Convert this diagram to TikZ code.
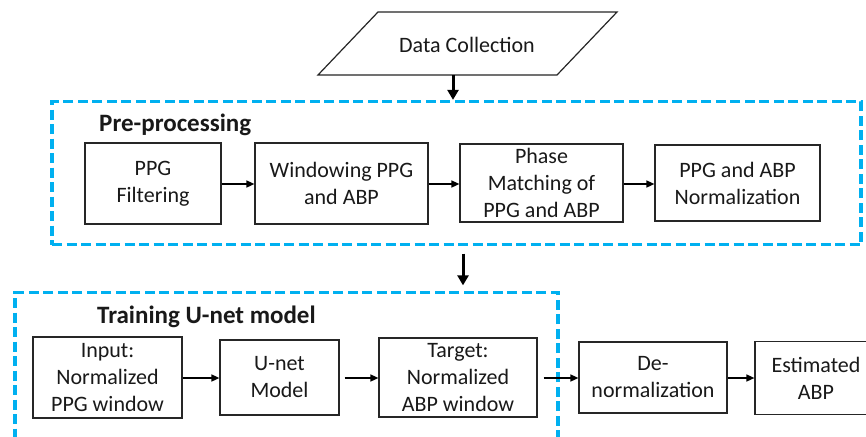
\documentclass[tikz,border=0pt]{standalone}
\usepackage{fontspec}
\setmainfont{Carlito}
\usetikzlibrary{arrows.meta,calc}
\definecolor{dashblue}{HTML}{00B0F0}
\definecolor{boxline}{HTML}{262626}
\begin{document}
\begin{tikzpicture}[x=1pt,y=-1pt,
  every node/.style={font=\fontsize{22}{27}\selectfont, text=black!90},
  procbox/.style={draw=boxline, line width=1.2pt, fill=white, align=center, inner sep=0pt},
  dashbox/.style={draw=dashblue, line width=3.3pt, dash pattern=on 10pt off 4.5pt, inner sep=0pt},
  title/.style={font=\fontsize{25}{30}\selectfont\bfseries, anchor=base west, inner sep=0pt},
  harrow/.style={draw=black, line width=1.5pt, -{Triangle[length=8pt,width=7pt]}},
  varrow/.style={draw=black, line width=3pt, -{Triangle[length=10pt,width=11pt]}}]
\useasboundingbox (0,0) rectangle (866,436);
\clip (0,0) rectangle (866,436);
\fill[white] (0,0) rectangle (866,436);

% Data collection (parallelogram)
\draw[boxline, line width=1.2pt] (378,12) -- (617,12) -- (557,75) -- (318,75) -- cycle;
\node (dc) at (467,44.5) {Data Collection};
\coordinate (dcb) at (453,75);

% Pre-processing group
\node[dashbox, minimum width=809pt, minimum height=143pt] (pre) at (456.5,173) {};
\node[title] (pretitle) at (99,131.5) {Pre-processing};
\node[procbox, minimum width=136pt, minimum height=81pt] (f1) at (153,183.5) {PPG\\Filtering};
\node[procbox, minimum width=173pt, minimum height=81pt] (f2) at (341.5,183.5) {Windowing PPG\\and ABP};
\node[procbox, minimum width=163pt, minimum height=78pt] (f3) at (541.5,183) {Phase\\Matching of\\PPG and ABP};
\node[procbox, minimum width=165pt, minimum height=76pt] (f4) at (737.5,183) {PPG and ABP\\Normalization};

% Training group
\node[dashbox, minimum width=543pt, minimum height=170pt] (train) at (286.5,377.7) {};
\node[title] (traintitle) at (97,323) {Training U-net model};
\node[procbox, minimum width=149pt, minimum height=81pt] (g1) at (107.5,377.5) {Input:\\Normalized\\PPG window};
\node[procbox, minimum width=119pt, minimum height=75pt] (g2) at (279.5,377.5) {U-net\\Model};
\node[procbox, minimum width=158pt, minimum height=79pt] (g3) at (458,377.5) {Target:\\Normalized\\ABP window};
\node[procbox, minimum width=148pt, minimum height=71pt] (g4) at (653,377.5) {De-\\normalization};
\node[procbox, minimum width=122pt, minimum height=72.6pt] (g5) at (816,378) {Estimated\\ABP};

% connectors
\draw[varrow] (dcb) -- (dcb |- pre.north);
\coordinate (a2) at (463,0);
\draw[varrow, shorten <=7.5pt, shorten >=5.7pt] (a2 |- pre.south) -- (a2 |- train.north);

\draw[harrow] (f1.east |- 0,184) -- (f2.west |- 0,184);
\draw[harrow] (f2.east |- 0,184) -- (f3.west |- 0,184);
\draw[harrow] (f3.east |- 0,184) -- (f4.west |- 0,184);

\draw[harrow] (g1.east |- 0,378) -- (g2.west |- 0,378);
\draw[harrow, shorten <=5pt] (g2.east |- 0,378) -- (g3.west |- 0,378);
\draw[harrow, shorten <=6pt] (g3.east |- 0,378) -- (g4.west |- 0,378);
\draw[harrow] (g4.east |- 0,378) -- (g5.west |- 0,378);
\end{tikzpicture}
\end{document}
